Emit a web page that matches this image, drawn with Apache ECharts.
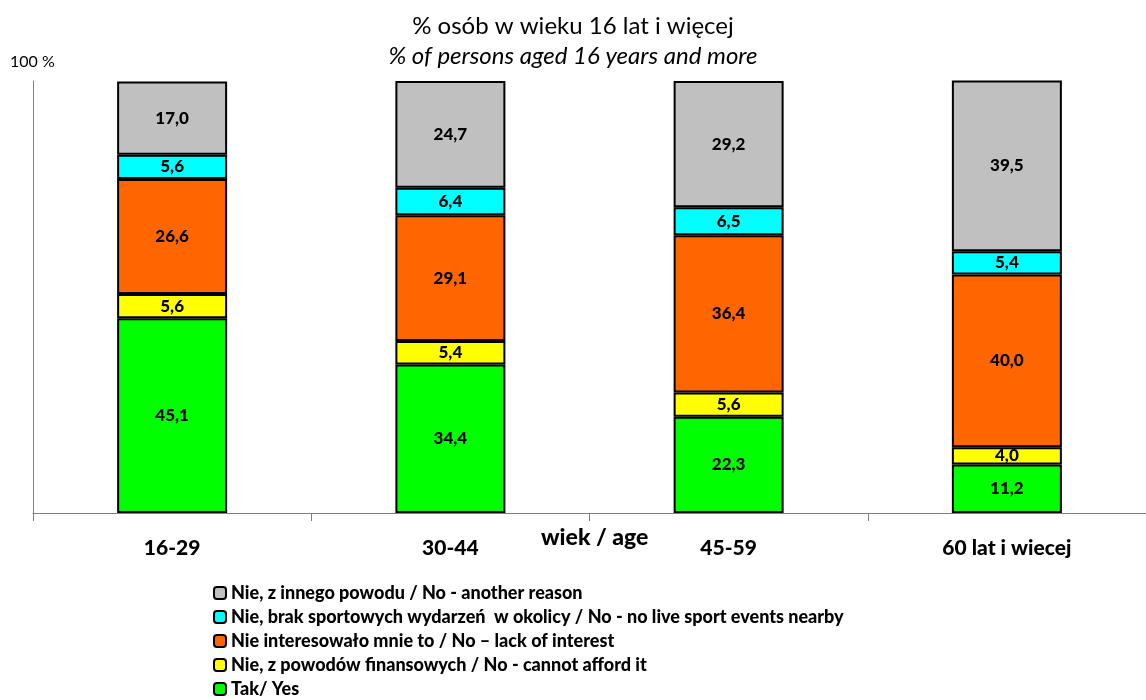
<!DOCTYPE html>
<html><head><meta charset="utf-8">
<script src="https://cdn.jsdelivr.net/npm/echarts@6/dist/echarts.min.js"></script>
<style>html,body{margin:0;padding:0;background:#fff}#c{width:1146px;height:700px}</style>
</head><body><div id="c"></div>
<script>
const categories = ['16-29', '30-44', '45-59', '60 lat i wiecej'];
const yesVals = [45.1, 34.4, 22.3, 11.2];
const financeVals = [5.6, 5.4, 5.6, 4.0];
const interestVals = [26.6, 29.1, 36.4, 40.0];
const eventsVals = [5.6, 6.4, 6.5, 5.4];
const otherVals = [17.0, 24.7, 29.2, 39.5];
const seriesNames = [
  'Tak/ Yes',
  'Nie, z powodów finansowych / No - cannot afford it',
  'Nie interesowało mnie to / No – lack of interest',
  'Nie, brak sportowych wydarzeń  w okolicy / No - no live sport events nearby',
  'Nie, z innego powodu / No - another reason'
];
const seriesData = [yesVals, financeVals, interestVals, eventsVals, otherVals];
const colors = ['#00FF00', '#FFFF00', '#FF6600', '#00FFFF', '#C0C0C0'];
const FONT = 'Lato, "Open Sans", sans-serif';

const chart = echarts.init(document.getElementById('c'));
chart.setOption({
  animation: false,
  textStyle: {fontFamily: FONT},
  title: [
    {text: '% osób w wieku 16 lat i więcej', left: 'center', top: 9,
     textStyle: {fontFamily: FONT, fontSize: 24, fontWeight: 'normal', color: '#000'}},
    {text: '% of persons aged 16 years and more', left: 'center', top: 39,
     textStyle: {fontFamily: FONT, fontSize: 24, fontWeight: 'normal', fontStyle: 'italic', color: '#000'}}
  ],
  graphic: [
    {type: 'text', left: 10, top: 54, style: {text: '100 %', font: '16px ' + FONT, fill: '#000'}},
    {type: 'text', left: 541, top: 526, style: {text: 'wiek / age', font: '900 23px ' + FONT, fill: '#000'}}
  ],
  legend: {
    orient: 'vertical', left: 213, top: 584, padding: 0, itemWidth: 12, itemHeight: 12, itemGap: 6,
    data: seriesNames.slice().reverse(),
    textStyle: {fontFamily: FONT, fontSize: 18, fontWeight: 900, color: '#000'}
  },
  grid: {left: 33, right: 0, top: 81, bottom: 187},
  xAxis: {
    type: 'category', data: categories,
    axisLine: {lineStyle: {color: '#808080', width: 1}},
    axisTick: {show: true, length: 8, lineStyle: {color: '#808080'}},
    axisLabel: {fontFamily: FONT, fontSize: 21, fontWeight: 900, color: '#000', margin: 25}
  },
  yAxis: {
    type: 'value', min: 0, max: 100,
    axisLine: {show: true, lineStyle: {color: '#808080', width: 1}},
    axisTick: {show: false}, axisLabel: {show: false}, splitLine: {show: false}
  },
  series: seriesData.map((d, i) => ({
    name: seriesNames[i], type: 'bar', stack: 'all', data: d, barWidth: 110,
    itemStyle: {color: colors[i], borderColor: '#000', borderWidth: 2},
    label: {show: true, position: 'inside', color: '#000', fontFamily: FONT, fontSize: 17, fontWeight: 900,
      formatter: p => p.value.toFixed(1).replace('.', ',')}
  }))
});
</script></body></html>
